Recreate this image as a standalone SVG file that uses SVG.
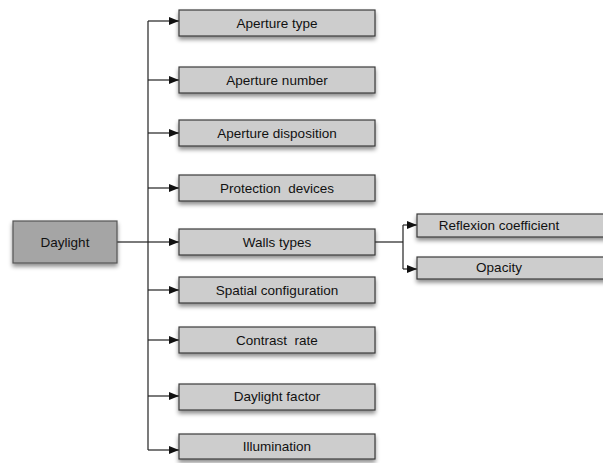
<svg xmlns="http://www.w3.org/2000/svg" width="603" height="463" viewBox="0 0 603 463">
<style>
.box{fill:#cdcdcd;stroke:#3a3a3a;stroke-width:1.2;filter:url(#sh)}
.root{fill:#a5a5a5;stroke:#555;stroke-width:1.2;filter:url(#sh)}
.t{font-family:"Liberation Sans",Arial,sans-serif;font-size:13.5px;fill:#111;text-anchor:middle}
.c{fill:none;stroke:#222;stroke-width:1.2}
</style>
<defs>
<filter id="sh" x="-10%" y="-20%" width="130%" height="160%">
<feDropShadow dx="0" dy="3" stdDeviation="2" flood-color="#000" flood-opacity="0.45"/>
</filter>
<marker id="ar" viewBox="0 0 10 8" refX="10" refY="4" markerWidth="10" markerHeight="8" markerUnits="userSpaceOnUse" orient="auto">
<path d="M0,0 L10,4 L0,8 Z" fill="#111"/>
</marker>
</defs>
<g id="connectors">
<path class="c" d="M117,242 H148"/>
<path class="c" d="M148,21 V450"/>
<path class="c" d="M148,21 H179" marker-end="url(#ar)"/>
<path class="c" d="M148,80 H179" marker-end="url(#ar)"/>
<path class="c" d="M148,133 H179" marker-end="url(#ar)"/>
<path class="c" d="M148,188 H179" marker-end="url(#ar)"/>
<path class="c" d="M148,242 H179" marker-end="url(#ar)"/>
<path class="c" d="M148,290 H179" marker-end="url(#ar)"/>
<path class="c" d="M148,340 H179" marker-end="url(#ar)"/>
<path class="c" d="M148,396 H179" marker-end="url(#ar)"/>
<path class="c" d="M148,450 H179" marker-end="url(#ar)"/>
<path class="c" d="M375,242 H403"/>
<path class="c" d="M403,225 V269"/>
<path class="c" d="M403,225 H417" marker-end="url(#ar)"/>
<path class="c" d="M403,269 H417" marker-end="url(#ar)"/>
</g>
<g id="daylight"><rect class="root" x="13" y="221" width="104" height="42"/><text class="t" x="65" y="247">Daylight</text></g>
<g id="aperture-type"><rect class="box" x="179" y="10" width="196" height="26"/><text class="t" x="277" y="28">Aperture type</text></g>
<g id="aperture-number"><rect class="box" x="179" y="67" width="196" height="26"/><text class="t" x="277" y="85">Aperture number</text></g>
<g id="aperture-disposition"><rect class="box" x="179" y="120" width="196" height="26"/><text class="t" x="277" y="138">Aperture disposition</text></g>
<g id="protection-devices"><rect class="box" x="179" y="175" width="196" height="26"/><text class="t" x="277" y="193" xml:space="preserve">Protection  devices</text></g>
<g id="walls-types"><rect class="box" x="179" y="229" width="196" height="26"/><text class="t" x="277" y="247">Walls types</text></g>
<g id="spatial-configuration"><rect class="box" x="179" y="277" width="196" height="26"/><text class="t" x="277" y="295">Spatial configuration</text></g>
<g id="contrast-rate"><rect class="box" x="179" y="327" width="196" height="26"/><text class="t" x="277" y="345" xml:space="preserve">Contrast  rate</text></g>
<g id="daylight-factor"><rect class="box" x="179" y="384" width="196" height="26"/><text class="t" x="277" y="401">Daylight factor</text></g>
<g id="illumination"><rect class="box" x="179" y="434" width="196" height="25"/><text class="t" x="277" y="451">Illumination</text></g>
<g id="reflexion-coefficient"><rect class="box" x="417" y="214" width="200" height="23"/><text class="t" x="499" y="230">Reflexion coefficient</text></g>
<g id="opacity"><rect class="box" x="417" y="257" width="200" height="22"/><text class="t" x="499" y="272">Opacity</text></g>
</svg>
